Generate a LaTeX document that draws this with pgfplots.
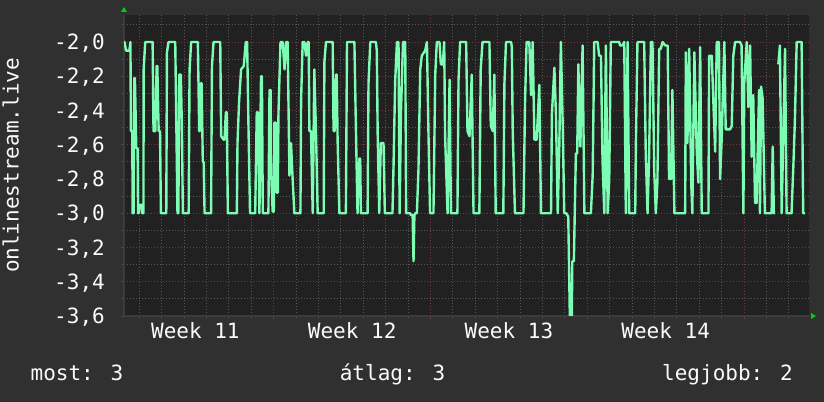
\documentclass[border=0pt]{standalone}
\usepackage{pgfplots}
\usepackage{pgfplotstable}
\pgfplotsset{compat=1.18}
\usepackage{fontspec}
\setmainfont{DejaVu Sans Mono}
\setmonofont{DejaVu Sans Mono}

\definecolor{canvas}{RGB}{48,48,48}
\definecolor{plotbg}{RGB}{33,33,33}
\definecolor{gridminor}{RGB}{88,88,88}
\definecolor{gridmajor}{RGB}{120,55,55}
\definecolor{axisline}{RGB}{60,60,60}
\definecolor{trace}{RGB}{125,252,180}
\definecolor{arrowgreen}{RGB}{0,210,0}
\definecolor{txt}{RGB}{250,250,250}

% days since monday of week 11, value
\pgfplotstableread{
x y
0.31 -2.00
0.34 -2.00
0.40 -2.05
0.55 -2.05
0.60 -2.00
0.62 -2.52
0.68 -2.52
0.70 -3.00
0.74 -3.00
0.77 -2.21
0.80 -2.21
0.86 -2.62
0.92 -2.62
0.94 -3.00
0.97 -3.00
1.00 -2.95
1.10 -2.95
1.12 -3.00
1.18 -3.00
1.19 -2.16
1.26 -2.00
1.59 -2.00
1.63 -2.52
1.71 -2.52
1.77 -2.14
1.80 -2.14
1.86 -2.52
1.92 -2.52
1.96 -3.00
2.20 -3.00
2.23 -2.06
2.30 -2.00
2.60 -2.00
2.65 -2.49
2.70 -3.00
2.74 -3.00
2.78 -2.19
2.85 -2.19
2.90 -2.52
2.94 -3.00
3.20 -3.00
3.24 -2.16
3.31 -2.00
3.61 -2.00
3.67 -2.52
3.70 -2.52
3.75 -2.24
3.78 -2.24
3.83 -2.70
3.87 -2.70
3.91 -3.00
4.20 -3.00
4.24 -2.14
4.31 -2.00
4.61 -2.00
4.65 -2.55
4.76 -2.57
4.80 -2.57
4.86 -2.41
4.90 -2.41
4.95 -3.00
5.35 -3.00
5.38 -2.59
5.45 -2.35
5.54 -2.16
5.66 -2.14
5.75 -2.00
5.81 -2.00
5.87 -2.49
5.94 -3.00
6.17 -3.00
6.24 -2.41
6.29 -2.41
6.36 -3.00
6.43 -2.20
6.47 -2.20
6.51 -3.00
6.76 -3.00
6.81 -2.28
6.86 -2.28
6.88 -2.75
6.95 -2.99
7.00 -2.99
7.03 -2.47
7.08 -2.47
7.13 -2.88
7.18 -2.88
7.21 -2.41
7.30 -2.00
7.40 -2.00
7.48 -2.16
7.55 -2.00
7.62 -2.00
7.70 -2.78
7.77 -2.59
7.85 -2.82
7.92 -3.00
8.19 -3.00
8.22 -2.34
8.29 -2.00
8.37 -2.00
8.44 -2.08
8.51 -2.00
8.56 -2.00
8.59 -2.52
8.66 -2.52
8.74 -3.00
8.81 -2.16
8.89 -2.55
8.96 -3.00
9.23 -3.00
9.26 -2.12
9.33 -2.00
9.63 -2.00
9.67 -2.52
9.72 -2.52
9.78 -2.19
9.81 -2.19
9.85 -2.57
9.93 -3.00
10.22 -3.00
10.27 -2.00
10.60 -2.00
10.67 -2.52
10.74 -3.00
10.82 -2.68
10.86 -2.68
10.89 -3.00
11.19 -3.00
11.23 -2.24
11.31 -2.00
11.56 -2.00
11.60 -2.05
11.64 -2.54
11.71 -3.00
11.78 -2.59
11.90 -2.59
11.96 -3.00
12.30 -3.00
12.35 -2.71
12.42 -2.23
12.50 -2.00
12.57 -2.00
12.62 -3.00
12.68 -2.41
12.77 -2.00
12.87 -2.00
12.91 -3.00
13.09 -3.00
13.12 -3.01
13.20 -3.01
13.24 -3.28
13.28 -3.01
13.32 -3.00
13.39 -3.00
13.46 -2.75
13.54 -2.16
13.61 -2.08
13.76 -2.05
13.84 -2.00
13.91 -2.55
13.98 -3.00
14.13 -3.00
14.21 -2.19
14.28 -2.00
14.40 -2.00
14.46 -2.13
14.55 -2.13
14.61 -2.00
14.65 -2.55
14.76 -3.00
14.85 -2.22
14.91 -3.00
15.20 -3.00
15.25 -2.22
15.32 -2.00
15.59 -2.00
15.65 -2.52
15.74 -2.55
15.84 -2.19
15.92 -3.00
16.18 -3.00
16.24 -2.16
16.32 -2.00
16.63 -2.00
16.69 -2.49
16.78 -2.52
16.85 -2.19
16.91 -3.00
17.25 -3.00
17.30 -2.24
17.37 -2.00
17.60 -2.00
17.63 -2.03
17.67 -2.52
17.77 -3.00
18.15 -3.00
18.22 -2.35
18.29 -2.00
18.41 -2.00
18.49 -2.31
18.56 -2.00
18.64 -2.57
18.74 -2.57
18.86 -2.25
18.93 -3.00
19.38 -3.00
19.42 -2.42
19.53 -2.15
19.60 -2.42
19.68 -3.00
19.75 -2.61
19.82 -2.00
19.90 -2.47
19.97 -3.00
20.06 -3.00
20.15 -3.02
20.22 -3.60
20.31 -3.60
20.33 -3.28
20.40 -3.28
20.44 -3.00
20.49 -2.65
20.55 -2.65
20.60 -2.13
20.69 -2.61
20.79 -2.02
20.87 -3.00
21.16 -3.00
21.24 -2.78
21.31 -2.00
21.46 -2.00
21.53 -2.08
21.61 -2.08
21.68 -2.69
21.76 -3.00
21.83 -2.02
21.91 -3.00
21.98 -2.80
22.05 -2.00
22.43 -2.00
22.46 -2.02
22.57 -2.02
22.65 -2.00
22.72 -3.00
22.80 -2.00
22.87 -3.00
23.14 -3.00
23.17 -2.59
23.24 -2.00
23.54 -2.00
23.61 -2.65
23.69 -3.00
23.76 -2.67
23.84 -2.00
23.91 -2.00
23.99 -2.76
24.06 -3.00
24.13 -2.82
24.21 -2.04
24.28 -2.04
24.36 -2.00
24.48 -2.02
24.59 -2.02
24.65 -2.80
24.74 -2.80
24.80 -2.28
24.89 -3.00
25.37 -3.00
25.40 -2.06
25.47 -2.59
25.55 -2.04
25.64 -2.82
25.69 -3.00
25.78 -2.06
25.89 -2.65
25.96 -2.82
26.04 -2.03
26.11 -3.00
26.41 -3.00
26.44 -2.08
26.56 -2.08
26.63 -2.35
26.71 -2.64
26.78 -2.00
26.88 -2.00
26.93 -2.80
27.00 -2.57
27.12 -2.00
27.18 -2.51
27.37 -2.51
27.45 -2.49
27.52 -2.08
27.60 -2.00
27.82 -2.00
27.89 -2.02
27.97 -3.00
28.01 -2.24
28.12 -2.00
28.19 -2.38
28.27 -2.02
28.34 -2.67
28.41 -2.31
28.49 -2.94
28.56 -2.94
28.67 -2.28
28.71 -3.00
28.76 -2.26
28.83 -2.33
28.93 -3.00
29.23 -3.00
29.28 -2.61
29.33 -3.00
29.38 -3.00
29.45 nan
29.53 -2.13
29.60 -2.02
29.68 -3.00
29.83 -2.04
29.90 -3.00
30.12 -3.00
30.20 -2.73
30.27 -2.46
30.35 -2.00
30.57 -2.00
30.64 -3.00
30.72 -3.00
}\streamdata

\begin{document}
\begin{tikzpicture}[font=\fontsize{21bp}{25bp}\selectfont]
\fill[canvas] (0,0) rectangle (824bp,402bp);
\begin{axis}[
    at={(124bp,86bp)}, anchor=south west,
    scale only axis, width=685bp, height=301bp,
    xmin=0.312, xmax=30.9,
    ymin=-3.6, ymax=-1.842,
    axis x line*=bottom, axis y line*=left,
    axis line style={draw=axisline, line width=1.5bp},
    axis background/.style={fill=plotbg},
    xtick={7,14,21,28}, xticklabels={},
    minor xtick={1,2,3,4,5,6,8,9,10,11,12,13,15,16,17,18,19,20,22,23,24,25,26,27,29,30},
    extra x ticks={3.5,10.5,17.5,24.5},
    extra x tick labels={Week 11,Week 12,Week 13,Week 14},
    extra x tick style={grid=none, major tick length=0pt},
    ytick={-3.6,-3.4,-3.2,-3.0,-2.8,-2.6,-2.4,-2.2,-2.0},
    yticklabels={{-3,6},{-3,4},{-3,2},{-3,0},{-2,8},{-2,6},{-2,4},{-2,2},{-2,0}},
    minor ytick={-3.5,-3.3,-3.1,-2.9,-2.7,-2.5,-2.3,-2.1,-1.9},
    grid=both,
    major grid style={draw=gridmajor, line width=1bp, dash pattern=on 1bp off 2bp},
    minor grid style={draw=gridminor, line width=1bp, dash pattern=on 1bp off 2bp},
    tick align=outside, major tick length=3bp, minor tick length=2bp,
    major tick style={draw=gridmajor, line width=1bp},
    minor tick style={draw=gridminor, line width=1bp},
    ticklabel style={text=txt},
    yticklabel style={anchor=base east, inner sep=0pt, xshift=-16bp, yshift=-7.6bp},
    xticklabel style={anchor=base, inner sep=0pt, yshift=-22bp},
    unbounded coords=jump,
]
\addplot[trace, line width=2.4bp, line join=round] table[x=x, y=y] {\streamdata};
\end{axis}
% axis arrows
\fill[arrowgreen] (121bp,390bp) -- (127bp,390bp) -- (124bp,395bp) -- cycle;
\fill[arrowgreen] (811bp,83bp) -- (811bp,89bp) -- (816bp,86bp) -- cycle;
% y label and summary line
\node[txt, rotate=90, anchor=base, inner sep=0pt] at (18.5bp,236.5bp) {onlinestream.live};
\node[txt, anchor=base, inner sep=0pt] at (77bp,22bp) {most: 3};
\node[txt, anchor=base, inner sep=0pt] at (392.5bp,22bp) {átlag: 3};
\node[txt, anchor=base, inner sep=0pt] at (727.5bp,22bp) {legjobb: 2};
\pgfresetboundingbox
\path[use as bounding box] (0,0) rectangle (824bp,402bp);
\end{tikzpicture}
\end{document}
